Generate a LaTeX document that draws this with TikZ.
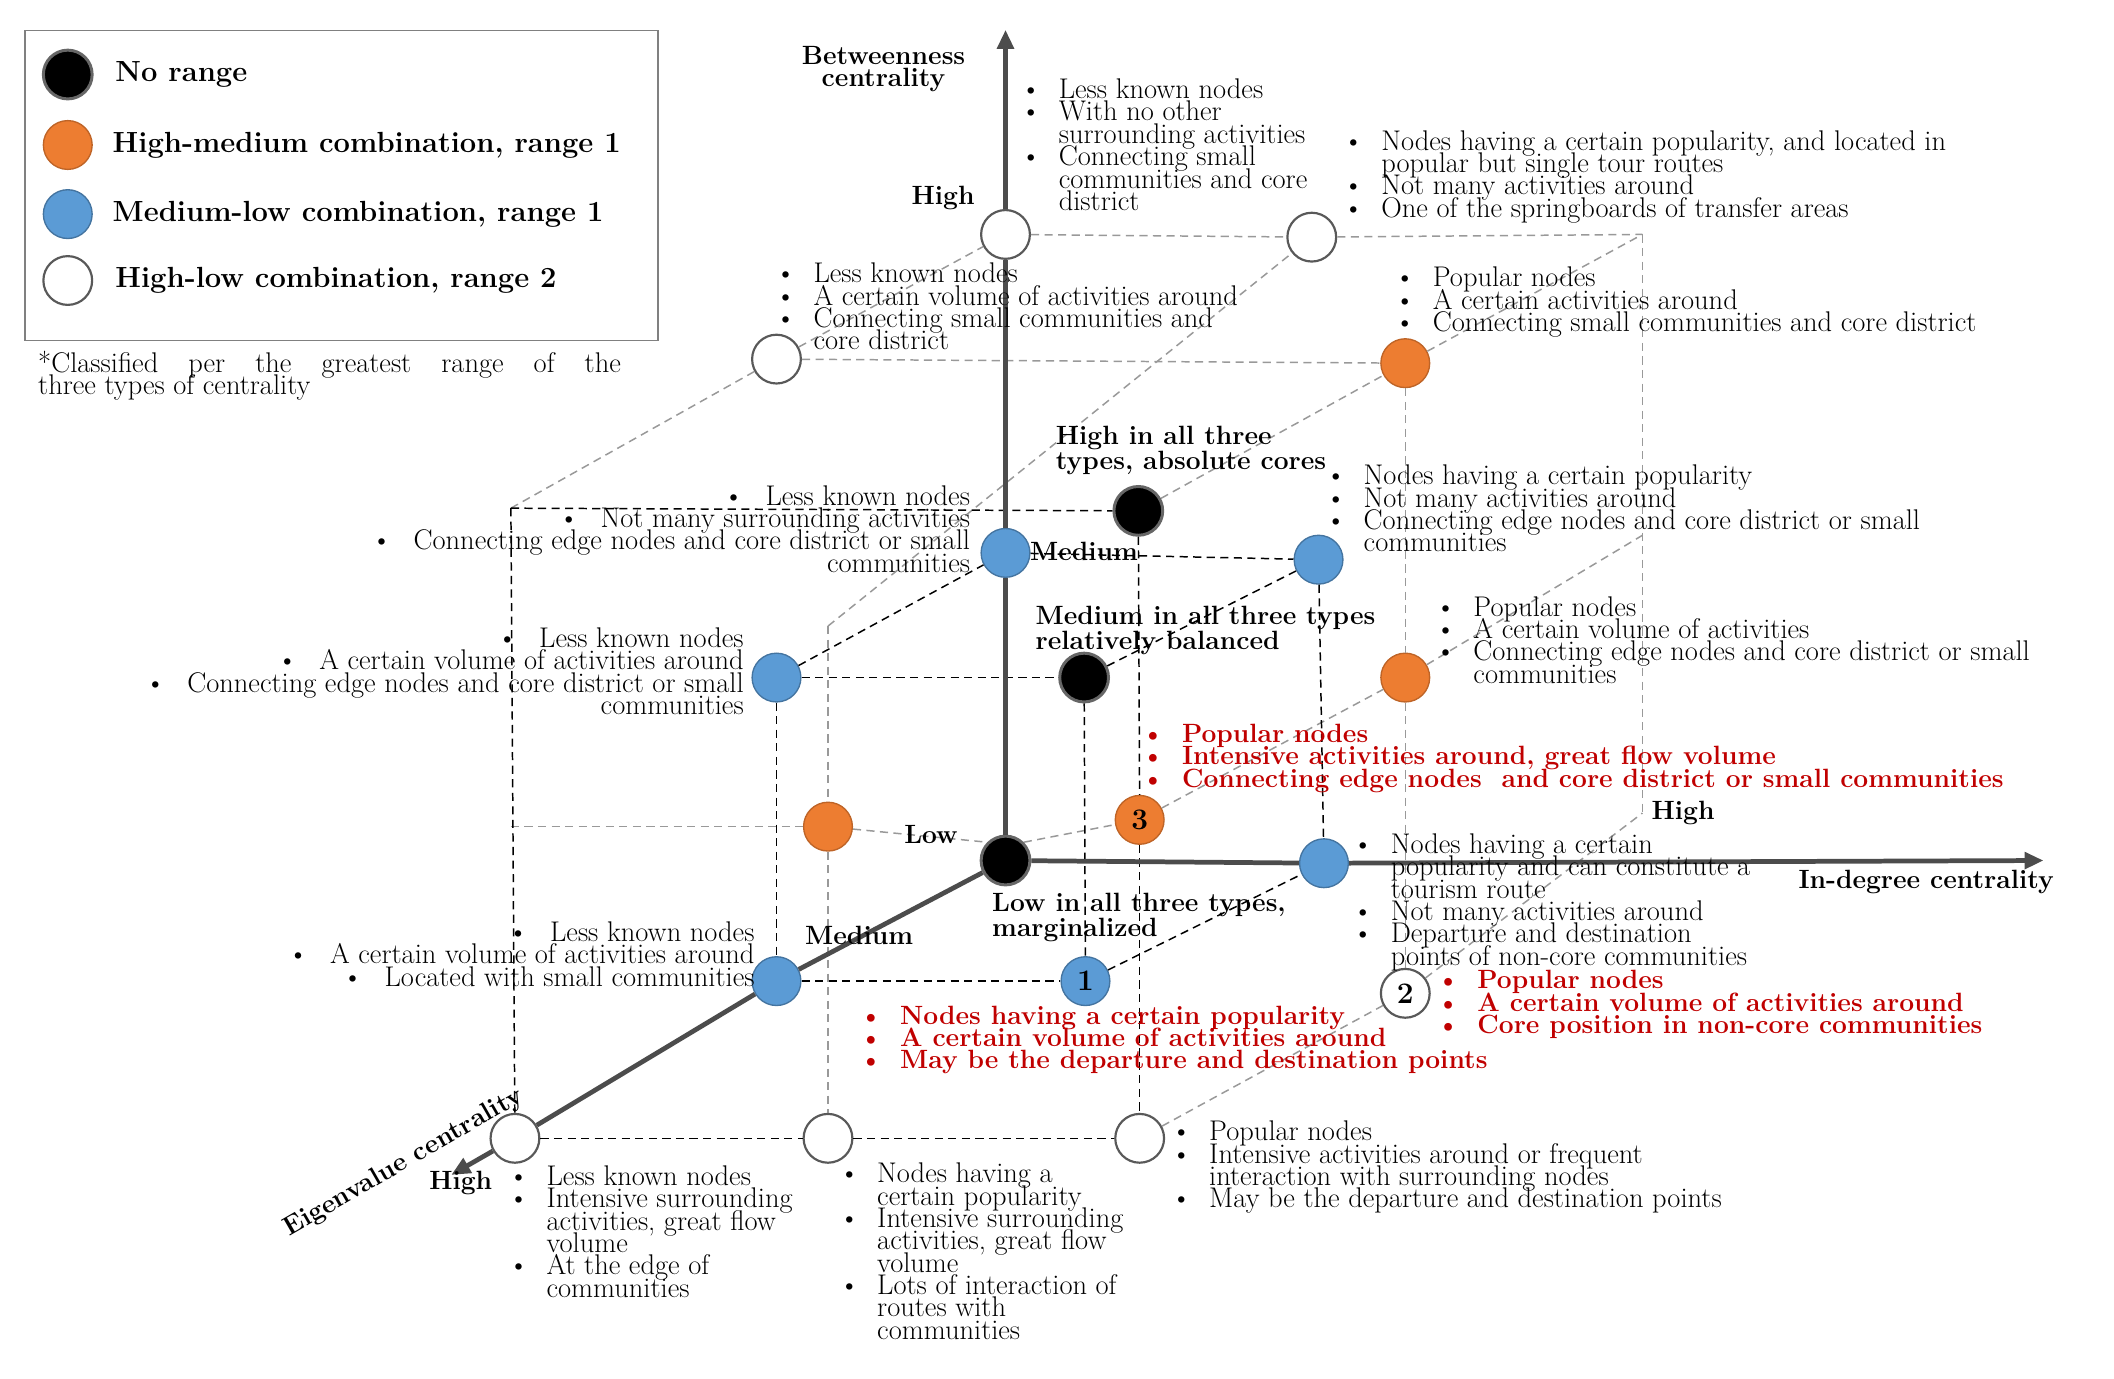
\documentclass[tikz,border=0pt]{standalone}
\usetikzlibrary{arrows.meta}
\definecolor{ored}{HTML}{C00000}
\definecolor{oorange}{HTML}{ED7D31}
\definecolor{oblue}{HTML}{5B9BD5}
\newcommand\bb[1]{\begin{tabular}{@{}l@{\hspace{13pt}}l@{}}#1\end{tabular}}
\newcommand\rb[1]{\begin{tabular}{@{}r@{}}#1\end{tabular}}
\newcommand\ro[1]{\smash{\textbullet}&\smash{#1}\\}
\newcommand\rc[1]{&\smash{#1}\\}
\newcommand\rr[1]{\smash{#1}\\}
\newcommand\bu{\textbullet\hspace{16pt}}
\begin{document}
\begin{tikzpicture}[x=1pt,y=-1pt,
  pt/.style={circle,minimum size=36pt,inner sep=0pt,line width=2.2pt},
  bk/.style={pt,fill=black,draw=gray!80!black},
  or/.style={pt,fill=oorange,draw=oorange!80!black,line width=1pt},
  bl/.style={pt,fill=oblue,draw=oblue!75!black,line width=1pt},
  wh/.style={pt,fill=white,draw=gray!70!black,line width=1.6pt},
  txt/.style={inner sep=0pt,font=\fontsize{21}{16.5}\selectfont},
  bt/.style={txt,font=\fontsize{19.5}{16.5}\selectfont\bfseries},
  rd/.style={txt,text=ored,font=\fontsize{19.5}{16.5}\selectfont\bfseries},
  lg/.style={txt,anchor=west,font=\fontsize{21.5}{18}\selectfont\bfseries},
  bd/.style={black,dash pattern=on 6pt off 4pt,line width=1.1pt},
  gd/.style={gray!80,dash pattern=on 6pt off 4pt,line width=1.1pt},
  ax/.style={gray!60!black,line width=3.5pt},
  axa/.style={ax,-{Triangle[length=14pt,width=12pt]}}]
\useasboundingbox (0,0) rectangle (1560,1017);
% legend
\node[draw=gray,line width=1pt,minimum width=467pt,minimum height=229pt,anchor=north west,inner sep=0pt] (leg) at (18,22) {};
\node[bk] (l1) at (50,55) {};
\node[or] (l2) at (50,107) {};
\node[bl] (l3) at (50,158) {};
\node[wh] (l4) at (50,207) {};
\node[lg] at (85,55) {No range};
\node[lg] at (83,107) {High-medium combination, range 1};
\node[lg] at (83,158) {Medium-low combination, range 1};
\node[lg] at (85,207) {High-low combination, range 2};
\node[txt,anchor=north west] at (28,263) {\begin{tabular}{@{}l@{}}\rr{\makebox[430pt][s]{*Classified per the greatest range of the}}\rr{three types of centrality}\end{tabular}};
% points
\node[wh] (wA) at (742,173) {};
\node[wh] (wB) at (968,175) {};
\node[wh] (wC) at (573,265) {};
\node[or] (oA) at (1037,268) {};
\node[bk] (kA) at (840,377) {};
\node[bl] (bM) at (742,408) {};
\node[bl] (bB) at (973,413) {};
\node[bl] (bC) at (573,500) {};
\node[bk] (kB) at (800,500) {};
\node[or] (oB) at (1037,500) {};
\node[or] (oC) at (611,610) {};
\node[or,font=\fontsize{22}{22}\selectfont\bfseries] (o3) at (841,605) {3};
\node[bk] (ko) at (742,635) {};
\node[bl] (bD) at (977,637) {};
\node[bl] (bE) at (573,724) {};
\node[bl,font=\fontsize{22}{22}\selectfont\bfseries] (b1) at (801,724) {1};
\node[wh,font=\fontsize{22}{22}\selectfont\bfseries] (w2) at (1037,733) {2};
\node[wh] (wD) at (380,840) {};
\node[wh] (wE) at (611,840) {};
\node[wh] (wF) at (841,840) {};
\coordinate (c1) at (377,375);
\coordinate (c2) at (1212,173);
\coordinate (c3) at (611,462);
\coordinate (c4) at (377,610);
\coordinate (c5) at (1212,600);
\coordinate (c6) at (1212,395);
\coordinate (tY) at (742,22);
\coordinate (tX) at (1508,635);
\coordinate (tZ) at (333,867);
% gray dashed
\draw[gd] (wA) -- (wB); \draw[gd] (wB) -- (c2); \draw[gd] (c2) -- (c5);
\draw[gd] (wC) -- (oA);
\draw[gd] (c1) -- (wC); \draw[gd] (wC) -- (wA);
\draw[gd] (c3) -- (wB); \draw[gd] (c3) -- (oC); \draw[gd] (oC) -- (wE);
\draw[gd] (kA) -- (oA); \draw[gd] (oA) -- (c2);
\draw[gd] (oA) -- (oB); \draw[gd] (oB) -- (w2);
\draw[gd] (o3) -- (oB); \draw[gd] (oB) -- (c6);
\draw[gd] (c4) -- (oC); \draw[gd] (oC) -- (ko.north west); \draw[gd] (ko.north east) -- (o3);
\draw[gd] (wF) -- (w2); \draw[gd] (w2) -- (c5);
% black dashed
\draw[bd] (c1) -- (kA);
\draw[bd] (bM) -- (bB);
\draw[bd] (bC) -- (kB);
\draw[bd] (bC) -- (bM);
\draw[bd] (kB) -- (bB);
\draw[bd] (c1) -- (wD);
\draw[bd] (bC) -- (bE);
\draw[bd] (kB) -- (b1);
\draw[bd] (kA) -- (o3); \draw[bd] (o3) -- (wF);
\draw[bd] (bB) -- (bD);
\draw[bd] (wD) -- (wE); \draw[bd] (wE) -- (wF);
\draw[bd] (bE) -- (b1);
\draw[bd] (b1) -- (bD);
% axes
\draw[ax] (ko) -- (bM); \draw[ax] (bM) -- (wA); \draw[axa] (wA) -- (tY);
\draw[ax] (ko) -- (bD); \draw[axa] (bD) -- (tX);
\draw[ax] (ko) -- (bE); \draw[ax] (bE) -- (wD); \draw[axa] (wD) -- (tZ);
% axis labels
\node[bt,align=center] at (652,51) {Betweenness\\centrality};
\node[bt,anchor=west] at (1327,651) {In-degree centrality};
\node[bt,rotate=30] at (298,858) {Eigenvalue centrality};
\node[bt] at (696,146) {High};
\node[bt,anchor=west] at (760,407) {Medium};
\node[bt] at (687,616) {Low};
\node[bt] at (1242,600) {High};
\node[bt] at (634,690) {Medium};
\node[bt] at (340,873) {High};
\node[bt,anchor=north west,align=left] at (779,314) {High in all three\\types, absolute cores};
\node[bt,anchor=north west,align=left] at (764,447) {Medium in all three types\\relatively balanced};
\node[bt,anchor=north west,align=left] at (732,659) {Low in all three types,\\marginalized};
% text blocks
\node[txt,anchor=north west] at (753,61) {\bb{\ro{Less known nodes}\ro{With no other}\rc{surrounding activities}\ro{Connecting small}\rc{communities and core}\rc{district}}};
\node[txt,anchor=north west] at (991,99) {\bb{\ro{Nodes having a certain popularity, and located in}\rc{popular but single tour routes}\ro{Not many activities around}\ro{One of the springboards of transfer areas}}};
\node[txt,anchor=north west] at (572,197) {\bb{\ro{Less known nodes}\ro{A certain volume of activities around}\ro{Connecting small communities and}\rc{core district}}};
\node[txt,anchor=north west] at (1029,200) {\bb{\ro{Popular nodes}\ro{A certain activities around}\ro{Connecting small communities and core district}}};
\node[txt,anchor=north east] at (716,361) {\rb{\rr{\bu Less known nodes}\rr{\bu Not many surrounding activities}\rr{\bu Connecting edge nodes and core district or small}\rr{communities}}};
\node[txt,anchor=north west] at (978,346) {\bb{\ro{Nodes having a certain popularity}\ro{Not many activities around}\ro{Connecting edge nodes and core district or small}\rc{communities}}};
\node[txt,anchor=north east] at (549,466) {\rb{\rr{\bu Less known nodes}\rr{\bu A certain volume of activities around}\rr{\bu Connecting edge nodes and core district or small}\rr{communities}}};
\node[txt,anchor=north west] at (1059,443) {\bb{\ro{Popular nodes}\ro{A certain volume of activities}\ro{Connecting edge nodes and core district or small}\rc{communities}}};
\node[rd,anchor=north west] at (842,536) {\bb{\ro{Popular nodes}\ro{Intensive activities around, great flow volume}\ro{Connecting edge nodes\ \ and core district or small communities}}};
\node[txt,anchor=north west] at (998,618) {\bb{\ro{Nodes having a certain}\rc{popularity and can constitute a}\rc{tourism route}\ro{Not many activities around}\ro{Departure and destination}\rc{points of non-core communities}}};
\node[txt,anchor=north east] at (557,683) {\rb{\rr{\bu Less known nodes}\rr{\bu A certain volume of activities around}\rr{\bu Located with small communities}}};
\node[rd,anchor=north west] at (634,744) {\bb{\ro{Nodes having a certain popularity}\ro{A certain volume of activities around}\ro{May be the departure and destination points}}};
\node[rd,anchor=north west] at (1060,718) {\bb{\ro{Popular nodes}\ro{A certain volume of activities around}\ro{Core position in non-core communities}}};
\node[txt,anchor=north west] at (864,830) {\bb{\ro{Popular nodes}\ro{Intensive activities around or frequent}\rc{interaction with surrounding nodes}\ro{May be the departure and destination points}}};
\node[txt,anchor=north west] at (375,863) {\bb{\ro{Less known nodes}\ro{Intensive surrounding}\rc{activities, great flow}\rc{volume}\ro{At the edge of}\rc{communities}}};
\node[txt,anchor=north west] at (619,861) {\bb{\ro{Nodes having a}\rc{certain popularity}\ro{Intensive surrounding}\rc{activities, great flow}\rc{volume}\ro{Lots of interaction of}\rc{routes with}\rc{communities}}};
\end{tikzpicture}
\end{document}
